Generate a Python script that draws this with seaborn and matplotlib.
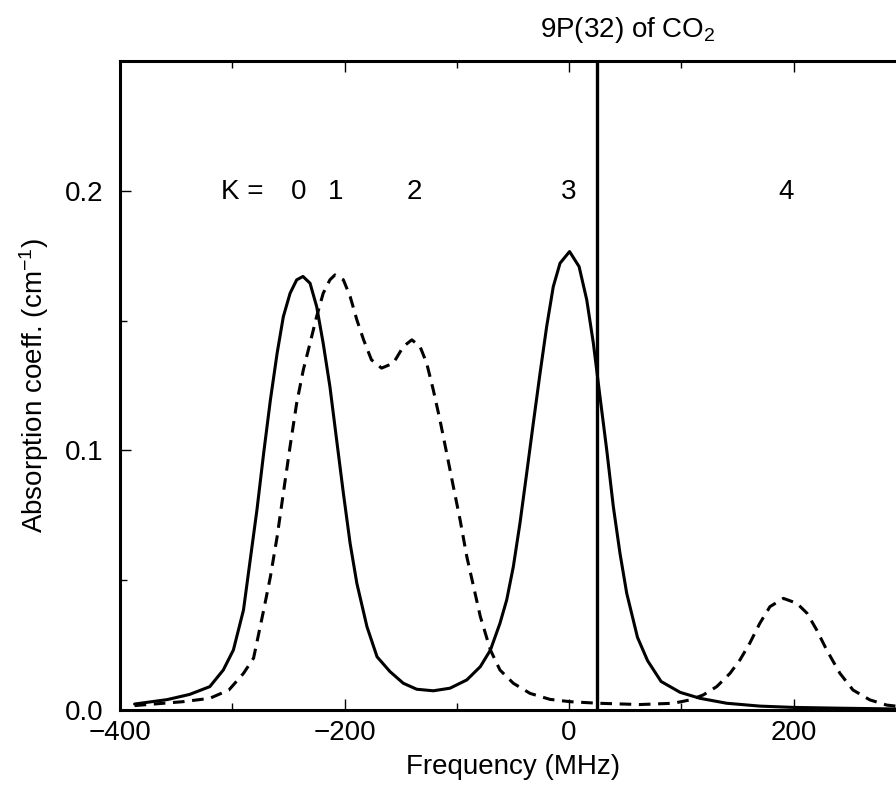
import numpy as np
import matplotlib
matplotlib.use("Agg")
import matplotlib.pyplot as plt
import seaborn as sns
import pandas as pd

# values (MHz, cm^-1)
solid_freq = [-387, -358, -338, -320, -308, -299, -290, -284, -278, -272, -266, -260,
              -254.5, -248.5, -242.6, -237, -230.7, -224.8, -219, -213, -207, -201,
              -195, -189, -180, -171, -159.5, -147.6, -135.7, -120.9, -106, -91, -79,
              -70, -61.5, -55.5, -49.6, -43.7, -37.7, -31.8, -25.8, -19.9, -14, -8,
              0.5, 9, 15.8, 21.7, 27.6, 33.6, 39.5, 45.4, 51.4, 61, 70, 82, 99, 116.7,
              140.5, 170, 200, 241, 291]
solid_abs = [0.0023, 0.0040, 0.0060, 0.0090, 0.0154, 0.0231, 0.0385, 0.0578, 0.0771,
             0.099, 0.1195, 0.1375, 0.1515, 0.1605, 0.1657, 0.167, 0.1644, 0.1554,
             0.1413, 0.1246, 0.104, 0.0835, 0.0642, 0.0488, 0.0321, 0.0205, 0.0148,
             0.0103, 0.0080, 0.0074, 0.0084, 0.0116, 0.0167, 0.0231, 0.0334, 0.0424,
             0.0552, 0.0719, 0.0912, 0.1105, 0.1297, 0.1477, 0.1631, 0.1721, 0.1766,
             0.1708, 0.158, 0.1413, 0.1207, 0.1002, 0.0783, 0.0604, 0.045, 0.028,
             0.019, 0.0110, 0.0068, 0.0045, 0.0026, 0.0015, 0.0010, 0.0007, 0.0004]

dashed_freq = [-387, -344, -320, -303, -290, -281, -272, -266, -260, -254.5, -248.5,
               -242.6, -236.7, -230.7, -224.8, -219, -213, -208.5, -201, -195, -189,
               -183, -176, -167, -156.5, -147.6, -140, -132.7, -126.8, -120.9, -115,
               -109, -103, -97, -91, -85, -79, -70, -61.5, -49.6, -34.7, -17, 1, 26,
               63, 93, 108, 119.6, 131.6, 143.4, 152.3, 161, 170, 179, 191, 203, 212,
               220.7, 229.6, 241.4, 253, 268, 283, 291]
dashed_abs = [0.0017, 0.0032, 0.0045, 0.0077, 0.0141, 0.020, 0.0385, 0.0514, 0.0668,
              0.0835, 0.1015, 0.1182, 0.131, 0.1413, 0.1516, 0.1605, 0.1657, 0.1676,
              0.1657, 0.1593, 0.1503, 0.1426, 0.1349, 0.1317, 0.1336, 0.140, 0.1426,
              0.140, 0.1336, 0.1233, 0.1118, 0.099, 0.086, 0.0732, 0.059, 0.0475,
              0.036, 0.0231, 0.0154, 0.0103, 0.0064, 0.0041, 0.0032, 0.0026, 0.0021,
              0.0026, 0.0039, 0.0058, 0.009, 0.0141, 0.0193, 0.0257, 0.0334, 0.0398,
              0.043, 0.0411, 0.0373, 0.0308, 0.0231, 0.0141, 0.0077, 0.0039, 0.0019,
              0.0015]

k_labels = ["0", "1", "2", "3", "4"]
k_freq = [-241, -208, -138, 0, 193]
laser_line = 25

sns.set_style("ticks")
plt.rcParams['font.family'] = ['Liberation Sans', 'DejaVu Sans']
plt.rcParams['mathtext.fontset'] = 'custom'
plt.rcParams['mathtext.rm'] = 'Liberation Sans'
plt.rcParams['mathtext.it'] = 'Liberation Sans:italic'
plt.rcParams['text.color'] = 'black'
plt.rcParams['axes.labelcolor'] = 'black'

fs = 20
fig = plt.figure(figsize=(8.96, 7.88), dpi=100)
ax = fig.add_axes([120 / 896, 78 / 788, (905.75 - 120) / 896, 649 / 788])

solid = pd.DataFrame({"freq": solid_freq, "abs": solid_abs})
dashed = pd.DataFrame({"freq": dashed_freq, "abs": dashed_abs})
sns.lineplot(data=solid, x="freq", y="abs", ax=ax, color="black", lw=2.2, sort=False)
sns.lineplot(data=dashed, x="freq", y="abs", ax=ax, color="black", lw=2.2,
             sort=False, dashes=False, linestyle=(0, (3.8, 2.5)))

ax.axvline(laser_line, color="black", lw=2.4)

ax.set_xlim(-400, 300)
ax.set_ylim(0, 0.25)
ax.set_xticks([-400, -200, 0, 200])
ax.set_xticklabels(["\u2212400", "\u2212200", "0", "200"])
ax.set_xticks([-300, -100, 100], minor=True)
ax.set_yticks([0.0, 0.1, 0.2])
ax.set_yticklabels(["0.0", "0.1", "0.2"])
ax.set_yticks([0.05, 0.15], minor=True)
ax.tick_params(which="both", direction="in", top=True, right=False, width=1,
               colors="black", labelcolor="black")
ax.tick_params(which="major", length=8)
ax.tick_params(which="minor", length=5)
ax.tick_params(axis="x", which="major", labelsize=fs, pad=7)
ax.tick_params(axis="y", which="major", labelsize=fs, pad=12)
for sp in ax.spines.values():
    sp.set_linewidth(2.2)
    sp.set_color("black")

ax.set_xlabel("Frequency (MHz)", fontsize=fs, labelpad=6)
ax.set_ylabel("Absorption coeff. (cm$^{\u22121}$)", fontsize=fs, labelpad=10)

ax.text(-291, 0.1996, "K =", fontsize=fs, ha="center", va="center")
for lab, f in zip(k_labels, k_freq):
    ax.text(f, 0.1996, lab, fontsize=fs, ha="center", va="center")
ax.text(52, 0.262, "9P(32) of CO$_2$", fontsize=fs, ha="center", va="center", clip_on=False)

fig.savefig("out.png", dpi=100)
